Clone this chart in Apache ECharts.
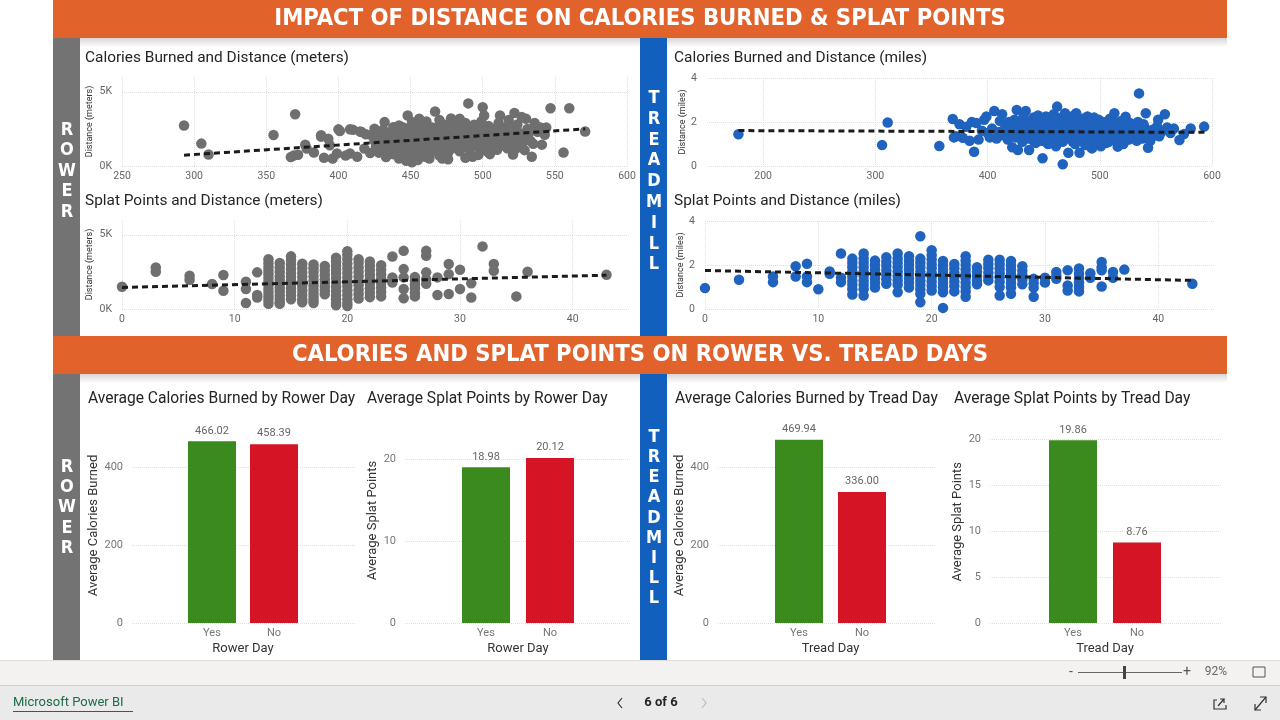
<!DOCTYPE html>
<html>
<head>
<meta charset="utf-8">
<script src="https://cdn.jsdelivr.net/npm/echarts@6/dist/echarts.min.js"></script>
<style>
html,body{margin:0;padding:0;background:#fff;}
#main{width:1280px;height:720px;}
</style>
</head>
<body>
<div id="main"></div>
<script>
// rower: calories burned vs distance (meters)
var rowerCalDist = [[293,2730],[305,1510],[310,780],[355,2090],[370,3490],[367,600],[369,700],[372,760],[377,1440],[378,1180],[383,910],[388,2070],[388,1980],[390,560],[393,1840],[394,1400],[396,510],[399,840],[400,2470],[401,2360],[405,700],[408,2470],[408,840],[410,2440],[413,620],[415,2330],[416,2290],[418,1180],[419,2140],[422,880],[423,2070],[425,2510],[426,1300],[427,1980],[428,900],[430,1500],[431,2440],[432,2960],[432,1860],[433,600],[435,1200],[436,2100],[437,1700],[438,2620],[438,800],[440,2590],[440,1400],[441,1000],[442,2730],[442,1900],[443,2300],[444,600],[445,1600],[446,1150],[447,2000],[448,3400],[448,2500],[449,900],[450,1300],[451,2960],[451,250],[452,1800],[453,2200],[454,700],[455,400],[455,1500],[456,3180],[456,2700],[457,1100],[458,2000],[459,2400],[460,620],[460,1700],[461,3000],[462,1300],[463,2200],[464,900],[465,2600],[466,1900],[467,3670],[467,1500],[468,2300],[469,1100],[470,3100],[470,700],[471,2000],[472,510],[472,1600],[473,2800],[474,1300],[475,2400],[476,900],[477,1900],[478,3200],[479,1200],[480,2200],[481,1500],[482,2700],[483,1800],[484,3180],[484,1000],[485,2400],[486,1300],[487,2000],[488,2900],[489,1600],[490,4220],[490,2200],[491,1100],[492,1800],[493,620],[494,2780],[495,1400],[496,2500],[497,2000],[498,1200],[499,3000],[500,3960],[500,1700],[501,3400],[502,2300],[503,1000],[504,2700],[505,1500],[506,2000],[507,1300],[508,2500],[509,1800],[510,1100],[511,2900],[512,3400],[513,2200],[514,1400],[515,1900],[516,2600],[517,1200],[518,3100],[519,2000],[520,1600],[521,780],[522,3580],[523,1180],[523,2400],[524,2800],[525,1800],[526,1300],[527,3300],[528,2100],[529,1070],[530,3180],[531,2500],[533,1700],[534,620],[536,2900],[537,2690],[540,2590],[541,1440],[543,2110],[544,2590],[547,3890],[556,910],[560,3890],[571,2330],
    [425,1700],[429,1100],[434,2200],[436,1500],[439,2000],[441,1700],[443,1250],[445,2600],[446,2200],[448,1450],[450,2100],[452,1150],[454,2550],[456,1300],[457,2200],[459,1550],[461,2500],[462,1850],[463,1050],[465,2100],[466,1250],[468,1750],[469,2600],[471,1450],[473,2150],[474,1750],[476,2650],[477,1400],[479,2450],[480,1700],[482,1250],[483,2250],[485,1650],[487,2550],[488,1350],[490,1850],[492,2400],[493,1450],[495,2000],[497,1600],[498,2600],[500,1250],[502,1950],[504,1700],[505,2450],[507,1950],[509,1500],[511,2300],[513,1700],[515,2400],[517,1550],[519,2600],[521,1900],[524,1500],[526,2200],[528,1600],[532,2200],[535,1500],[538,2300],[442,500],[447,350],[463,500],[476,450],[488,550],[497,750],[505,800]];
var rowerCalTrend = [[293,730],[571,2500]];

// rower: splat points vs distance (meters), one column per splat value
var rowerSplatCols = [
    [0,[1500]],[3,[2800,2510]],[6,[2240,1970]],[8,[1680]],[9,[2290,1230]],
    [11,[1840,1350,400]],[12,[2470,940,780]],
    [13,[3350,3100,2850,2600,2350,2100,1850,1600,1350,1100,850,600,350]],
    [14,[3100,2800,2500,2200,1950,1700,1450,1200,950,700,450,350]],
    [15,[3550,3300,3000,2700,2400,2150,1900,1650,1400,1150,900,650]],
    [16,[3050,2750,2450,2150,1850,1550,1250,950,650,450]],
    [17,[3000,2750,2500,2200,1900,1600,1350,1100,850,600,400]],
    [18,[2900,2600,2300,2000,1750,1500,1250,1000]],
    [19,[3450,3200,2900,2650,2400,2100,1800,1500,1200,900,650,400,250]],
    [20,[3900,3650,3350,3050,2750,2450,2150,1850,1550,1250,950,650,400,200]],
    [21,[3350,3100,2800,2500,2200,1900,1600,1300,1000,700]],
    [22,[3200,2900,2600,2300,2000,1700,1400,1100,800]],
    [23,[2950,2650,2350,2050,1750,1450,1150,850]],
    [24,[3540,2130,1790]],[25,[3920,2690,2130,1350,720]],
    [26,[2150,1900,1650,1400,1100,850]],[27,[3920,3590,2470,2000,1700]],
    [28,[2130,940]],[29,[3030,2350,1010]],[30,[2650,1350]],[31,[1730,780]],
    [32,[4220]],[33,[3030,2580]],[35,[850]],[36,[2510]],[43,[2310]]
];
var rowerSplatTrend = [[0,1450],[43,2280]];

// treadmill: calories burned vs distance (miles)
var treadCalDist = [[178,1.44],[306,0.95],[311,1.98],[357,0.91],[369,2.14],[370,1.3],[372,1.35],[375,1.9],[378,1.28],[381,1.78],[384,1.15],[386,2.0],[388,0.65],[390,1.95],[392,1.2],[395,1.6],[397,2.1],[399,2.25],[400,1.5],[402,1.3],[404,1.7],[406,2.5],[408,1.25],[410,1.55],[411,2.05],[413,2.35],[414,1.4],[416,1.85],[418,1.2],[419,2.0],[421,1.5],[422,0.85],[423,1.7],[424,2.1],[425,1.3],[426,2.55],[427,0.73],[428,1.6],[430,1.9],[431,1.1],[432,2.25],[433,1.45],[434,2.5],[435,1.75],[436,1.25],[437,0.73],[438,2.0],[439,1.55],[440,1.35],[441,2.2],[442,1.8],[443,1.05],[444,1.6],[445,2.3],[446,1.4],[447,1.9],[448,1.15],[449,0.35],[449,2.1],[450,1.7],[451,1.3],[452,2.25],[453,1.55],[454,1.0],[455,1.85],[456,2.05],[457,1.4],[458,1.2],[459,2.35],[460,1.65],[461,0.9],[462,2.7],[462,1.5],[463,2.0],[464,1.3],[465,1.75],[466,2.2],[467,0.08],[467,1.1],[468,1.6],[469,2.4],[470,1.9],[471,1.35],[472,0.6],[473,2.1],[474,1.5],[475,1.2],[476,1.8],[477,2.3],[478,1.0],[479,2.4],[479,1.65],[480,1.4],[481,2.0],[482,0.6],[483,1.25],[484,1.85],[485,2.15],[486,1.5],[487,0.95],[488,1.7],[489,2.25],[490,1.3],[491,1.95],[492,1.1],[493,0.8],[494,1.6],[495,2.2],[496,1.45],[497,1.8],[498,1.2],[499,2.1],[500,1.55],[501,0.9],[502,1.75],[503,2.0],[504,1.35],[505,1.6],[506,1.05],[507,1.9],[508,1.45],[509,2.15],[510,1.25],[511,1.7],[512,2.0],[513,2.4],[514,1.5],[515,1.15],[516,0.88],[517,1.8],[518,1.35],[519,2.05],[520,1.6],[521,1.0],[522,1.85],[523,2.24],[524,1.4],[525,1.7],[526,1.2],[527,1.95],[528,1.55],[530,1.3],[531,1.8],[532,1.45],[534,2.0],[535,3.3],[536,1.6],[538,1.25],[540,1.75],[541,2.4],[542,1.5],[543,0.83],[545,1.15],[547,1.65],[549,1.4],[551,1.8],[552,2.1],[555,1.55],[558,2.35],[560,1.75],[563,1.5],[566,1.7],[571,1.18],[575,1.45],[581,1.71],[593,1.79],
    [415,1.65],[420,1.8],[425,1.95],[429,1.35],[433,1.7],[436,1.95],[438,1.45],[441,1.15],[443,1.75],[445,1.25],[447,1.55],[449,1.85],[450,2.0],[451,1.6],[453,1.05],[454,1.75],[455,1.35],[456,1.6],[457,1.9],[458,1.65],[459,1.3],[460,2.1],[461,1.45],[463,1.75],[464,1.55],[465,1.2],[466,1.4],[467,1.85],[468,2.05],[469,1.25],[470,1.55],[471,1.7],[472,1.95],[473,1.3],[474,1.85],[475,1.65],[476,1.1],[477,1.55],[478,1.7],[479,1.2],[480,1.9],[481,1.6],[482,1.35],[483,2.05],[484,1.5],[485,1.75],[486,1.15],[487,1.95],[488,1.4],[489,1.0],[490,1.65],[491,1.45],[492,2.1],[493,1.55],[494,1.25],[495,1.85],[496,1.65],[497,1.05],[498,1.75],[499,1.4],[500,1.95],[502,1.25],[503,1.45],[505,1.85],[506,1.65],[508,1.1],[509,1.55],[510,1.95],[512,1.3],[513,1.7],[515,1.5],[517,1.25],[518,1.95],[520,1.4],[522,1.15],[524,1.6],[526,1.85],[528,1.3],[530,1.6],[533,1.15],[537,1.4],[539,1.9],[544,1.3],[548,1.6],[553,1.35]];
var treadCalTrend = [[178,1.61],[594,1.53]];

// treadmill: splat points vs distance (miles)
var treadSplatCols = [
    [0,[0.95]],[3,[1.33]],[6,[1.48,1.22]],[8,[1.94,1.48]],[9,[2.06,1.48,1.22]],
    [10,[0.9]],[11,[1.71,1.6]],[12,[2.52,1.42,1.22]],
    [13,[2.29,2.1,1.9,1.7,1.5,1.3,1.1,0.9,0.66]],
    [14,[2.52,2.3,2.1,1.9,1.7,1.5,1.3,1.1,0.9,0.61]],
    [15,[2.2,2.0,1.8,1.6,1.4,1.2,0.98]],
    [16,[2.35,2.15,1.95,1.75,1.55,1.35,1.15]],
    [17,[2.52,2.3,2.1,1.9,1.7,1.5,1.3,1.1,0.76]],
    [18,[2.4,2.2,2.0,1.8,1.6,1.4,1.2,0.98]],
    [19,[3.31,2.29,2.1,1.9,1.7,1.5,1.3,1.1,0.9,0.69,0.31]],
    [20,[2.67,2.45,2.25,2.05,1.85,1.65,1.45,1.25,1.05,0.84]],
    [21,[2.18,1.98,1.78,1.58,1.38,1.18,0.98,0.76,0.05]],
    [22,[2.05,1.85,1.65,1.45,1.25,1.05,0.8]],
    [23,[2.4,2.2,2.0,1.8,1.6,1.4,1.2,1.0,0.8,0.56]],
    [24,[1.9,1.7,1.5,1.3,1.12]],[25,[2.24,2.05,1.85,1.65,1.45,1.3]],
    [26,[2.24,2.04,1.84,1.64,1.44,1.24,1.0,0.61]],
    [27,[2.18,1.98,1.78,1.58,1.38,1.18,0.98,0.69]],
    [28,[1.94,1.74,1.54,1.34,1.12]],[29,[1.37,1.17,0.97,0.56]],[30,[1.42,1.2]],
    [31,[1.68,1.5,1.37]],[32,[1.76,1.07,0.84]],[33,[1.84,1.6,1.4,1.2,1.0,0.8]],
    [34,[1.63,1.42]],[35,[2.14,1.9,1.76,1.02]],[36,[1.68,1.42]],[37,[1.79]],[43,[1.15]]
];
var treadSplatTrend = [[0,1.75],[43,1.3]];

// averages by day
var dayCats = ['Yes','No'];
var rowerAvgCal = [466.02, 458.39];
var rowerAvgSplat = [18.98, 20.12];
var treadAvgCal = [469.94, 336.00];
var treadAvgSplat = [19.86, 8.76];

var dayColors = ['#3B8A1E','#D51426'];
var FONT = 'Roboto, "Noto Sans", sans-serif';
var BANNER_FONT = '"Liberation Sans Narrow", "DejaVu Sans Condensed", sans-serif';
var gridLine = {show:true, lineStyle:{color:'#e0e0e0', type:'dotted', width:1}};

function flattenCols(cols){
    var out = [];
    for(var i=0;i<cols.length;i++){
        for(var j=0;j<cols[i][1].length;j++){
            out.push([cols[i][0], cols[i][1][j]]);
        }
    }
    return out;
}

function onlyValues(list, fmt){
    return function(v){
        for(var i=0;i<list.length;i++){
            if(Math.abs(list[i]-v) < 1e-6){ return fmt ? fmt(v) : String(v); }
        }
        return '';
    };
}

var grids = [], xAxes = [], yAxes = [], series = [];

function addScatter(box, xCfg, yCfg, yName, points, trend, color){
    var gi = grids.length;
    grids.push({left:box[0], top:box[1], width:box[2], height:box[3]});
    xAxes.push({
        type:'value', gridIndex:gi, min:xCfg.min, max:xCfg.max,
        axisLine:{show:false}, axisTick:{show:false, customValues:xCfg.ticks},
        splitLine:gridLine,
        axisLabel:{customValues:xCfg.ticks, formatter:onlyValues(xCfg.ticks), color:'#666', fontSize:10.5, fontFamily:FONT, margin:5}
    });
    yAxes.push({
        type:'value', gridIndex:gi, min:yCfg.min, max:yCfg.max,
        name:yName, nameLocation:'middle', nameGap:yCfg.gap, nameRotate:90,
        nameTextStyle:{fontSize:9, color:'#333', fontFamily:FONT},
        axisLine:{show:false}, axisTick:{show:false, customValues:yCfg.ticks},
        splitLine:gridLine,
        axisLabel:{customValues:yCfg.ticks, formatter:onlyValues(yCfg.ticks, yCfg.fmt), color:'#666', fontSize:10.5, fontFamily:FONT, margin:yCfg.margin}
    });
    series.push({
        type:'scatter', xAxisIndex:gi, yAxisIndex:gi, data:points,
        symbolSize:10.5, itemStyle:{color:color, opacity:1}, silent:true
    });
    series.push({
        type:'line', xAxisIndex:gi, yAxisIndex:gi, data:trend, symbol:'none', z:5, silent:true,
        lineStyle:{color:'#1b1b1b', width:3, type:[6,4]}
    });
}

function addBars(wide, narrow, yCfg, yName, xName, values){
    var gw = grids.length;
    grids.push({left:wide[0], top:wide[1], width:wide[2], height:wide[3]});
    xAxes.push({type:'value', gridIndex:gw, min:0, max:1, show:false});
    yAxes.push({
        type:'value', gridIndex:gw, min:0, max:yCfg.max,
        name:yName, nameLocation:'middle', nameGap:yCfg.gap, nameRotate:90,
        nameTextStyle:{fontSize:13, color:'#333', fontFamily:FONT},
        axisLine:{show:false}, axisTick:{show:false, customValues:yCfg.ticks},
        splitLine:gridLine,
        axisLabel:{customValues:yCfg.ticks, formatter:onlyValues(yCfg.ticks), color:'#777', fontSize:11, fontFamily:FONT, margin:yCfg.margin}
    });
    var gn = grids.length;
    grids.push({left:narrow[0], top:wide[1], width:narrow[1], height:wide[3]});
    xAxes.push({
        type:'category', gridIndex:gn, data:dayCats,
        name:xName, nameLocation:'middle', nameGap:19,
        nameTextStyle:{fontSize:13, color:'#333', fontFamily:FONT},
        axisLine:{show:false}, axisTick:{show:false},
        axisLabel:{color:'#777', fontSize:11, fontFamily:FONT, margin:5}
    });
    yAxes.push({type:'value', gridIndex:gn, min:0, max:yCfg.max, show:false});
    var data = [];
    for(var i=0;i<values.length;i++){
        data.push({value:values[i], itemStyle:{color:dayColors[i]}});
    }
    series.push({
        type:'bar', xAxisIndex:gn, yAxisIndex:gn, data:data, barWidth:48, silent:true,
        label:{show:true, position:'top', distance:5, color:'#666', fontSize:11, fontFamily:FONT,
            formatter:function(p){ return p.value.toFixed(2); }}
    });
}

var kFmt = function(v){ return (v/1000)+'K'; };

addScatter([122,77,505,89], {min:250,max:600,ticks:[250,300,350,400,450,500,550,600]},
    {min:0,max:6000,ticks:[0,5000],fmt:kFmt,gap:28,margin:10}, 'Distance (meters)', rowerCalDist, rowerCalTrend, '#6f6f6f');
addScatter([122,220,507,89], {min:0,max:45,ticks:[0,10,20,30,40]},
    {min:0,max:6000,ticks:[0,5000],fmt:kFmt,gap:28,margin:10}, 'Distance (meters)', flattenCols(rowerSplatCols), rowerSplatTrend, '#6f6f6f');
addScatter([707,78,505,88], {min:150,max:600,ticks:[200,300,400,500,600]},
    {min:0,max:4,ticks:[0,2,4],gap:20,margin:10}, 'Distance (miles)', treadCalDist, treadCalTrend, '#1F63BE');
addScatter([705,221,510,88], {min:0,max:45,ticks:[0,10,20,30,40]},
    {min:0,max:4,ticks:[0,2,4],gap:20,margin:10}, 'Distance (miles)', flattenCols(treadSplatCols), treadSplatTrend, '#1F63BE');

addBars([132,428,223,195], [181,124], {max:500,ticks:[0,200,400],gap:28,margin:9}, 'Average Calories Burned', 'Rower Day', rowerAvgCal);
addBars([405,418,225,205], [454,128], {max:25,ticks:[0,10,20],gap:21,margin:9}, 'Average Splat Points', 'Rower Day', rowerAvgSplat);
addBars([718,428,217,195], [767.5,126], {max:500,ticks:[0,200,400],gap:26,margin:9}, 'Average Calories Burned', 'Tread Day', treadAvgCal);
addBars([990,420.6,232,202.4], [1041,128], {max:22,ticks:[0,5,10,15,20],gap:18,margin:9}, 'Average Splat Points', 'Tread Day', treadAvgSplat);

function txt(text, x, y, font, fill, align, extra){
    var s = {text:text, x:x, y:y, font:font, fill:fill, align:align||'left', verticalAlign:'middle',
        textAlign:align||'left', textVerticalAlign:'middle'};
    if(extra){ for(var k in extra){ s[k] = extra[k]; } }
    return {type:'text', silent:true, style:s};
}
function box(x, y, w, h, fill){
    return {type:'rect', silent:true, shape:{x:x,y:y,width:w,height:h}, style:{fill:fill}};
}
function shadow(x, y, w){
    return {type:'rect', silent:true, shape:{x:x,y:y,width:w,height:9},
        style:{fill:new echarts.graphic.LinearGradient(0,0,0,1,[{offset:0,color:'rgba(0,0,0,0.16)'},{offset:1,color:'rgba(0,0,0,0)'}])}};
}
function stripLetters(word, x, yTop, step){
    return txt(word.split('').join('\n'), x, yTop, 'bold 18px ' + BANNER_FONT, '#ffffff', 'center',
        {verticalAlign:'top', textVerticalAlign:'top', lineHeight:step});
}

var ORANGE = '#E2622C', GREY = '#737373', BLUE = '#1160BE';
var titleFont = '15.4px ' + FONT;
var barTitleFont = '15.6px ' + FONT;
var bannerFont = 'bold 23.6px ' + BANNER_FONT;
var graphics = [
    // top section
    box(53,0,1174,38,ORANGE),
    txt('IMPACT OF DISTANCE ON CALORIES BURNED & SPLAT POINTS', 640, 19, bannerFont, '#ffffff', 'center'),
    shadow(53,38,1174),
    box(53,38,27,298,GREY),
    box(640,38,27,298,BLUE),
    stripLetters('ROWER', 67, 120, 20.5),
    stripLetters('TREADMILL', 654, 88, 20.8),
    // bottom section
    box(53,336,1174,38,ORANGE),
    txt('CALORIES AND SPLAT POINTS ON ROWER VS. TREAD DAYS', 640, 355, bannerFont, '#ffffff', 'center'),
    shadow(53,374,1174),
    box(53,374,27,286,GREY),
    box(640,374,27,286,BLUE),
    stripLetters('ROWER', 67, 457, 20.3),
    stripLetters('TREADMILL', 654, 427, 20.2),
    // chart titles
    txt('Calories Burned and Distance (meters)', 85, 58, titleFont, '#252423'),
    txt('Splat Points and Distance (meters)', 85, 201, titleFont, '#252423'),
    txt('Calories Burned and Distance (miles)', 674, 58, titleFont, '#252423'),
    txt('Splat Points and Distance (miles)', 674, 201, titleFont, '#252423'),
    txt('Average Calories Burned by Rower Day', 88, 399, barTitleFont, '#252423'),
    txt('Average Splat Points by Rower Day', 367, 399, barTitleFont, '#252423'),
    txt('Average Calories Burned by Tread Day', 675, 399, barTitleFont, '#252423'),
    txt('Average Splat Points by Tread Day', 954, 399, barTitleFont, '#252423'),
    // zoom bar
    box(0,660,1280,25,'#F3F2F1'),
    {type:'line', silent:true, shape:{x1:0,y1:660.5,x2:1280,y2:660.5}, style:{stroke:'#e1dfdd',lineWidth:1}},
    txt('-', 1071, 672, '14px ' + FONT, '#555', 'center'),
    {type:'line', silent:true, shape:{x1:1078,y1:672.5,x2:1182,y2:672.5}, style:{stroke:'#666',lineWidth:1}},
    box(1123,666,3,13,'#444'),
    txt('+', 1187, 672, '14px ' + FONT, '#555', 'center'),
    txt('92%', 1216, 672, '12px ' + FONT, '#666', 'center'),
    {type:'rect', silent:true, shape:{x:1253,y:667,width:12,height:10}, style:{fill:'none',stroke:'#555',lineWidth:1}},
    // footer
    box(0,685,1280,35,'#EAEAEA'),
    {type:'line', silent:true, shape:{x1:0,y1:685.5,x2:1280,y2:685.5}, style:{stroke:'#d2d0ce',lineWidth:1}},
    txt('Microsoft Power BI', 13, 703, '13px ' + FONT, '#1E6B48'),
    {type:'line', silent:true, shape:{x1:13,y1:711.5,x2:133,y2:711.5}, style:{stroke:'#1E6B48',lineWidth:1}},
    {type:'polyline', silent:true, shape:{points:[[622,698],[618,703],[622,708]]}, style:{fill:'none',stroke:'#333',lineWidth:1.2}},
    txt('6 of 6', 661, 703, 'bold 13px ' + FONT, '#252423', 'center'),
    {type:'polyline', silent:true, shape:{points:[[702,698],[706,703],[702,708]]}, style:{fill:'none',stroke:'#bbb',lineWidth:1.2}},
    {type:'polyline', silent:true, shape:{points:[[1217,700],[1214,700],[1214,709],[1226,709],[1226,705]]}, style:{fill:'none',stroke:'#333',lineWidth:1.2}},
    {type:'polyline', silent:true, shape:{points:[[1218,706],[1224,699],[1220,699],[1224,699],[1224,703]]}, style:{fill:'none',stroke:'#333',lineWidth:1.2}},
    {type:'polyline', silent:true, shape:{points:[[1255,710],[1266,697]]}, style:{fill:'none',stroke:'#333',lineWidth:1.2}},
    {type:'polyline', silent:true, shape:{points:[[1255,704],[1255,710],[1261,710]]}, style:{fill:'none',stroke:'#333',lineWidth:1.2}},
    {type:'polyline', silent:true, shape:{points:[[1260,697],[1266,697],[1266,703]]}, style:{fill:'none',stroke:'#333',lineWidth:1.2}}
];

var chart = echarts.init(document.getElementById('main'), null, {renderer:'canvas'});
chart.setOption({
    animation:false,
    backgroundColor:'#ffffff',
    grid:grids,
    xAxis:xAxes,
    yAxis:yAxes,
    series:series,
    graphic:graphics
});
</script>
</body>
</html>
